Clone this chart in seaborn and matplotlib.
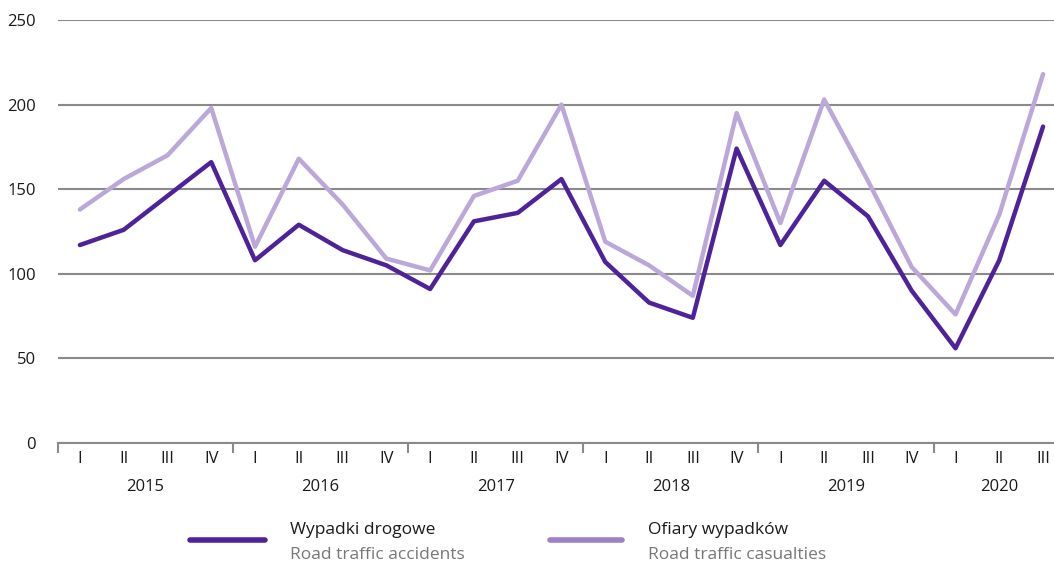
import pandas as pd
import seaborn as sns
import matplotlib.pyplot as plt
from matplotlib.lines import Line2D
from matplotlib.transforms import blended_transform_factory

# Quarterly data, 2015 Q1 - 2020 Q3
years = ['2015', '2016', '2017', '2018', '2019', '2020']
quarters = ['I', 'II', 'III', 'IV'] * 5 + ['I', 'II', 'III']
accidents = [117, 126, 146, 166, 108, 129, 114, 105, 91, 131, 136, 156,
             107, 83, 74, 174, 117, 155, 134, 90, 56, 108, 187]
casualties = [138, 156, 170, 198, 116, 168, 141, 109, 102, 146, 155, 200,
              119, 105, 87, 195, 130, 203, 155, 104, 76, 135, 218]

dark = '#4e2399'
light = '#bba8d8'
light_legend = '#9d80c8'
grid_col = '#8a8a8a'

sns.set_theme(style='white')
plt.rcParams['font.family'] = ['Open Sans', 'DejaVu Sans']

df = pd.DataFrame({'idx': list(range(len(quarters))) * 2,
                   'value': accidents + casualties,
                   'series': ['acc'] * len(accidents) + ['cas'] * len(casualties)})

fig = plt.figure(figsize=(10.54, 5.66), dpi=100)
ax = fig.add_axes([58 / 1054, 123 / 566, 1 - 58 / 1054, 423 / 566])

sns.lineplot(data=df, x='idx', y='value', hue='series', palette={'acc': dark, 'cas': light},
             hue_order=['cas', 'acc'], linewidth=3.2, legend=False, ax=ax)

ax.set_ylim(0, 250)
ax.set_xlim(-0.5, 22.25)
ax.set_yticks([0, 50, 100, 150, 200, 250])
ax.yaxis.grid(True, color=grid_col, linewidth=1.5)
ax.set_axisbelow(True)
for s in ['top', 'right', 'left']:
    ax.spines[s].set_visible(False)
ax.spines['bottom'].set_color(grid_col)
ax.spines['bottom'].set_linewidth(1.5)

ax.set_xticks(range(len(quarters)))
ax.set_xticklabels(quarters)
ax.set_xticks([-0.5 + 4 * i for i in range(6)], minor=True)
ax.tick_params(axis='x', which='major', length=0, pad=6, labelsize=12, colors='#1a1a1a')
ax.tick_params(axis='x', which='minor', length=7, width=1.5, color=grid_col, bottom=True)
ax.tick_params(axis='y', length=0, pad=16, labelsize=12, colors='#1a1a1a')
ax.set_xlabel('')
ax.set_ylabel('')

trans = blended_transform_factory(ax.transData, fig.transFigure)
for i, y in enumerate(years):
    n = min(4, len(quarters) - 4 * i)
    ax.text(4 * i + (n - 1) / 2, 1 - 487 / 566, y, transform=trans, ha='center', va='center',
            fontsize=12, color='#1a1a1a')

# legend drawn by hand
legend_items = [(190, 265, 290, dark, 'Wypadki drogowe', 'Road traffic accidents'),
                (550, 622, 648, light_legend, 'Ofiary wypadków', 'Road traffic casualties')]
for x0, x1, xt, col, pl, en in legend_items:
    fig.add_artist(Line2D([x0 / 1054, x1 / 1054], [1 - 540 / 566] * 2, color=col,
                          linewidth=4, solid_capstyle='round'))
    fig.text(xt / 1054, 1 - 530 / 566, pl, ha='left', va='center', fontsize=12.5, color='#1a1a1a')
    fig.text(xt / 1054, 1 - 555 / 566, en, ha='left', va='center', fontsize=12.5, color='#777777')

fig.savefig('out.png', dpi=100)
